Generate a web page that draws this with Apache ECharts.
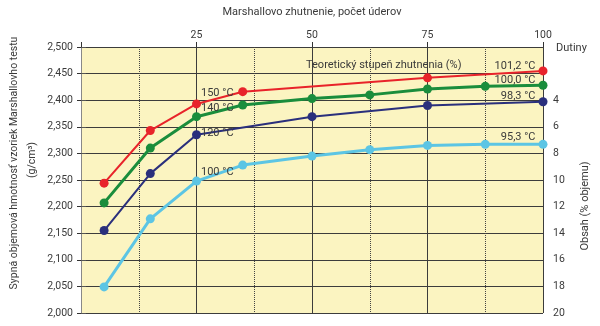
<!DOCTYPE html>
<html><head><meta charset="utf-8">
<script src="https://cdn.jsdelivr.net/npm/echarts@6/dist/echarts.min.js"></script>
<style>html,body{margin:0;padding:0;background:#fff}#c{width:600px;height:326px}</style>
</head><body><div id="c"></div>
<script>
// Marshall blows (top axis)
var redX   = [5, 15, 25, 35, 75, 100];
var red    = [2.244, 2.343, 2.393, 2.416, 2.442, 2.455];
var greenX = [5, 15, 25, 35, 50, 62.5, 75, 87.5, 100];
var green  = [2.207, 2.310, 2.369, 2.391, 2.403, 2.410, 2.421, 2.426, 2.428];
var navyX  = [5, 15, 25, 50, 75, 100];
var navy   = [2.155, 2.262, 2.335, 2.369, 2.390, 2.397];
var cyanX  = [5, 15, 25, 35, 50, 62.5, 75, 87.5, 100];
var cyan   = [2.049, 2.177, 2.248, 2.278, 2.295, 2.307, 2.315, 2.317, 2.317];
var xTickLabels = [25, 50, 75, 100];
var startLabels = ['150 °C', '140 °C', '120 °C', '100 °C'];
var endLabels   = ['101,2 °C', '100,0 °C', '98,3 °C', '95,3 °C'];

var FONT = 'Roboto';
var TXT = '#3a3a3a';
var chart = echarts.init(document.getElementById('c'), null, {renderer: 'canvas'});

function build(xs, ys, startLbl, endLbl, sOff, eOff) {
  return xs.map(function (x, i) {
    var item = {value: [x, ys[i]]};
    if (x === 25 && startLbl) {
      item.label = {show: true, formatter: startLbl, position: 'right', distance: 0, offset: sOff};
    }
    if (i === xs.length - 1 && endLbl) {
      item.label = {show: true, formatter: endLbl, position: 'left', distance: 0, offset: eOff};
    }
    return item;
  });
}
function series(name, color, width, data) {
  return {
    name: name, type: 'line', xAxisIndex: 0, yAxisIndex: 0, data: data,
    symbol: 'circle', symbolSize: 9, showSymbol: true,
    lineStyle: {color: color, width: width}, itemStyle: {color: color},
    label: {color: TXT, fontFamily: FONT, fontSize: 11, verticalAlign: 'middle'},
    emphasis: {disabled: true}, animation: false, z: 5
  };
}

chart.setOption({
  animation: false,
  grid: {left: 81, right: 57, top: 47, bottom: 13, show: true, backgroundColor: '#fbf4c1', borderWidth: 0},
  xAxis: [{
    type: 'value', position: 'top', min: 0, max: 100, interval: 12.5,
    name: 'Marshallovo zhutnenie, počet úderov', nameLocation: 'middle', nameGap: 29,
    nameTextStyle: {color: TXT, fontFamily: FONT, fontSize: 11},
    axisLine: {show: false},
    axisTick: {show: false},
    axisLabel: {color: TXT, fontFamily: FONT, fontSize: 10.5, margin: 6,
      formatter: function (v) { return xTickLabels.indexOf(v) >= 0 ? String(v) : ''; }},
    splitLine: {show: true, lineStyle: {color: '#444', width: 1, type: [1, 1]}}
  }, {
    type: 'value', position: 'top', min: 0, max: 100, interval: 25,
    axisLine: {show: false}, axisTick: {show: true, length: 5, lineStyle: {color: '#333'}},
    axisLabel: {show: false},
    splitLine: {show: true, lineStyle: {color: '#3c3c3c', width: 1}}
  }],
  yAxis: [{
    type: 'value', min: 2.0, max: 2.5, interval: 0.05, position: 'left',
    axisLine: {show: true, lineStyle: {color: '#333', width: 1}},
    axisTick: {show: true, length: 4, lineStyle: {color: '#333'}},
    axisLabel: {color: TXT, fontFamily: FONT, fontSize: 10.5, margin: 8,
      formatter: function (v) { return v.toFixed(3).replace('.', ','); }},
    splitLine: {show: true, lineStyle: {color: '#3c3c3c', width: 1}}
  }, {
    type: 'value', min: 0, max: 20, interval: 2, inverse: true, position: 'right',
    axisLine: {show: true, lineStyle: {color: '#888', width: 1}},
    axisTick: {show: true, length: 5, lineStyle: {color: '#555'}},
    axisLabel: {color: TXT, fontFamily: FONT, fontSize: 10.5, margin: 10,
      formatter: function (v) { return v >= 4 ? String(v) : ''; }},
    splitLine: {show: false}
  }],
  graphic: [
    {type: 'text', left: 306, top: 60, style: {text: 'Teoretický stupeň zhutnenia (%)', fill: TXT, font: '11px ' + FONT}},
    {type: 'text', left: 556, top: 43, style: {text: 'Dutiny', fill: TXT, font: '11px ' + FONT}},
    {type: 'text', x: 585, y: 206, rotation: Math.PI / 2,
      style: {text: 'Obsah (% objemu)', fill: TXT, font: '11px ' + FONT, align: 'center', verticalAlign: 'middle'}},
    {type: 'text', x: 14, y: 163, rotation: Math.PI / 2,
      style: {text: 'Sypná objemová hmotnosť vzoriek Marshallovho testu', fill: TXT, font: '10.5px ' + FONT, align: 'center', verticalAlign: 'middle'}},
    {type: 'text', x: 32, y: 160, rotation: Math.PI / 2,
      style: {text: '(g/cm³)', fill: TXT, font: '10.5px ' + FONT, align: 'center', verticalAlign: 'middle'}}
  ],
  series: [
    series('150', '#e8232a', 2, build(redX, red, startLabels[0], endLabels[0], [0, -11], [-3, -5])),
    series('140', '#1a8d3c', 3, build(greenX, green, startLabels[1], endLabels[1], [0, -8], [-3, -5])),
    series('120', '#2a2f7c', 2, build(navyX, navy, startLabels[2], endLabels[2], [0, -2], [-3, -6])),
    series('100', '#5cc5e4', 3, build(cyanX, cyan, startLabels[3], endLabels[3], [0, -9], [-3, -7]))
  ]
});
</script></body></html>
